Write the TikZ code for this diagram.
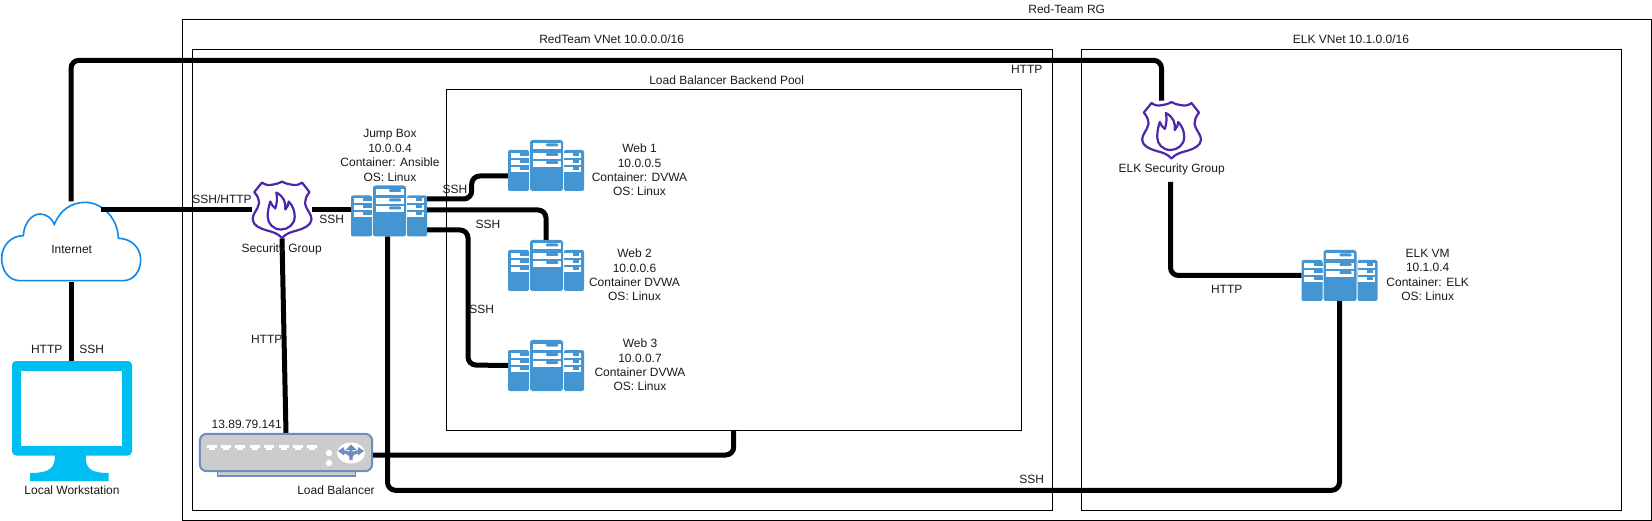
\documentclass[tikz,border=0pt]{standalone}
\usepackage{fontspec}
\setmainfont{Liberation Sans}
\usetikzlibrary{calc}
\definecolor{srvblue}{HTML}{4495D1}
\definecolor{fwpurple}{HTML}{4D27AA}
\definecolor{cloudblue}{HTML}{0F87E8}
\definecolor{moncyan}{HTML}{00BEF2}
\definecolor{lbblue}{HTML}{6C8EBF}
\definecolor{lbgrey}{HTML}{CCCCCC}
\definecolor{txt}{HTML}{1A1A1A}
\tikzset{
  region/.style={draw=black,line width=1pt,fill=none,inner sep=0pt,outer sep=0pt,anchor=north west},
  link/.style={draw=black,line width=5pt,rounded corners=8pt},
  lbl/.style={font=\fontsize{12}{14.4}\selectfont,text=txt,align=center,inner sep=0pt},
  servernode/.style={inner sep=0pt,outer sep=0pt,minimum width=76pt,minimum height=51pt},
  shieldnode/.style={inner sep=0pt,outer sep=0pt,minimum width=60pt,minimum height=57pt},
  pics/server/.style={code={
    \fill[srvblue,rounded corners=2pt] (-38,-15.5) rectangle (-17,25.5);
    \fill[srvblue,rounded corners=2pt] (18,-15.5) rectangle (38,25.5);
    \fill[srvblue,rounded corners=2.5pt] (-16,-25.5) rectangle (17,25.5);
    \foreach \y in {-12.5,-5.5,1.5}{
      \fill[white] (-35.3,\y) rectangle (-17,\y+5);
      \fill[white] (18,\y) rectangle (35,\y+5);
      \fill[srvblue] (-26,\y) rectangle (-17,\y+2.6);
      \fill[srvblue] (27,\y) rectangle (33,\y+2.6);
    }
    \foreach \y in {-22,-12.5,-4.5}{
      \fill[white] (-13.5,\y) rectangle (14.5,\y+6);
      \fill[srvblue,rounded corners=1pt] (0,\y) rectangle (12,\y+3);
    }
  }},
  pics/shield/.style={code={
    \begin{scope}[shift={(-30,-28.5)}]
    \draw[fwpurple,line width=2.2pt,line join=round]
      (10,1) .. controls (13,3.5) and (17,4) .. (20,3.2)
      .. controls (23,2.8) and (27,2) .. (30,0)
      .. controls (33,2) and (37,2.8) .. (40,3.2)
      .. controls (43,4) and (47,3.5) .. (50,1)
      -- (57.5,10.6)
      .. controls (54,15) and (53,18) .. (53,22)
      .. controls (54,28) and (60,33) .. (59.5,38)
      .. controls (59,44) and (52,47) .. (45,49)
      .. controls (39,50.5) and (34,52) .. (30,56.5)
      .. controls (26,52) and (21,50.5) .. (15,49)
      .. controls (8,47) and (1,44) .. (0.7,38)
      .. controls (0,33) and (6,28) .. (7,22)
      .. controls (7,18) and (6,15) .. (2.3,10.6)
      -- cycle;
    \draw[fwpurple,line width=2.2pt,line join=round]
      (24.3,11) .. controls (32,15) and (34,21) .. (33.3,28)
      .. controls (35.5,26) and (36.5,23) .. (36.7,20)
      .. controls (40.5,24) and (42.7,29) .. (42.7,35)
      .. controls (42.7,43) and (36,48) .. (29,48)
      .. controls (21,48) and (15.7,42) .. (15.7,35)
      .. controls (15.7,29) and (17,24) .. (18.3,20)
      .. controls (19.5,23) and (21,25.5) .. (23.3,27)
      .. controls (25,22) and (25.5,16) .. (24.3,11) -- cycle;
    \end{scope}
  }},
}
\begin{document}
\begin{tikzpicture}[x=1pt,y=-1pt]
\useasboundingbox (0,0) rectangle (1652,521);
% regions
\node[region,minimum width=1469.5pt,minimum height=500.3pt] (rg) at (182,20) {};
\node[region,minimum width=860pt,minimum height=460.3pt] (rvnet) at (192,50) {};
\node[region,minimum width=540pt,minimum height=460.3pt] (evnet) at (1081.7,50) {};
\node[region,minimum width=575.7pt,minimum height=340.3pt] (pool) at (446,90) {};
% icon nodes
\node[servernode] (jump) at (389,211) {};
\node[servernode] (web1) at (546,165.5) {};
\node[servernode] (web2) at (546,265.5) {};
\node[servernode] (web3) at (546,365.5) {};
\node[servernode] (elk) at (1339.5,275.5) {};
\node[shieldnode] (sg) at (282,210) {};
\node[shieldnode] (esg) at (1171.5,130.5) {};
\node[inner sep=0pt,minimum width=140pt,minimum height=80pt] (internet) at (71,241.5) {};
\node[inner sep=0pt,minimum width=120pt,minimum height=120pt] (workstation) at (72,421) {};
\node[inner sep=0pt,minimum width=172pt,minimum height=37pt] (lb) at (286,452.5) {};
\coordinate (cloudport) at (101,210);
% connectors
\draw[link] (internet.north) -- (71,60.3) -- (1161.5,60.3) -- ([xshift=-10pt,yshift=1.3pt]esg.north);
\draw[link,rounded corners=0pt] (internet.south) -- (internet.south |- workstation.north);
\draw[link,rounded corners=0pt] (sg.east) -- (jump.west |- sg.east);
\draw[link,rounded corners=0pt] (sg.south) -- (lb.north);
\draw[link] ([yshift=-2.5pt]lb.east) -- (733.7,455) -- (733.7,430.5);
\draw[link] ([xshift=-1.5pt]jump.south) -- (387.5,490.3) -- (1339.5,490.3) -- (elk.south);
\draw[link] ([yshift=12pt]jump.east) -- (471.7,199) -- (471.7,176) -- ([yshift=-10.5pt]web1.west);
\draw[link] ([yshift=1pt]jump.east) -- (546,210) -- (web2.north);
\draw[link] ([yshift=-19pt]jump.east) -- (468,230) -- (468,365) -- (web3.west);
\draw[link] (1170.5,182) -- (1170.5,275.5) -- (elk.west);
% icons
\pic at (jump) {server};
\pic at (web1) {server};
\pic at (web2) {server};
\pic at (web3) {server};
\pic at (elk) {server};
\pic at (sg) {shield};
\pic at (esg) {shield};
% cloud
\begin{scope}[shift={(0,170)},x=0.33333pt,y=-0.33333pt]
\filldraw[fill=white,draw=cloudblue,line width=1.6pt]
  (60,332) .. controls (25,332) and (5,300) .. (5,265)
  .. controls (5,225) and (35,197) .. (70,197)
  .. controls (72,160) and (95,132) .. (120,132)
  .. controls (140,132) and (155,145) .. (163,163)
  .. controls (180,120) and (215,97) .. (255,97)
  .. controls (310,97) and (355,150) .. (355,205)
  .. controls (395,205) and (422,235) .. (422,268)
  .. controls (422,305) and (400,332) .. (370,332) -- cycle;
\end{scope}
\draw[link,rounded corners=0pt] (cloudport) -- (sg.west);
% monitor
\fill[moncyan,rounded corners=4pt] (12,361) rectangle (132,455.5);
\fill[white] (21,371) rectangle (122,446);
\fill[moncyan] (55,455) .. controls (55,468) and (50,473) .. (30,473) -- (30,481) -- (108.5,481) -- (108.5,473) .. controls (90,473) and (85,468) .. (86,455) -- cycle;
% load balancer
\filldraw[fill=lbgrey,draw=lbblue,line width=1.5pt] (217.5,470) rectangle (355.5,476);
\filldraw[fill=lbgrey,draw=lbblue,line width=2pt,rounded corners=7pt] (lb.north west) rectangle (lb.south east);
\foreach \i in {0,...,7}{
  \fill[white] (206.5+\i*14.4,445) rectangle ++(10,3);
  \fill[white] (208.5+\i*14.4,447) rectangle ++(6,3);
}
\fill[white] (329,453) circle (3.2);
\fill[white] (329,463) circle (3.2);
\fill[white] (351,453) ellipse (14 and 10.5);
\draw[lbblue,line width=3.2pt] (351,449) -- (351,460) (343,451.5) .. controls (346,452) and (350,453) .. (351,457) (359,451.5) .. controls (356,452) and (352,453) .. (351,457);
\fill[lbblue] (345.5,450) -- (351,444.5) -- (356.5,450) -- cycle;
\fill[lbblue] (344,447) -- (338,451) -- (344,455.5) -- cycle;
\fill[lbblue] (358,447) -- (364,451) -- (358,455.5) -- cycle;
% labels
\node[lbl] (t1) at (1066.7,9.3) {Red-Team RG};
\node[lbl] (t2) at (611.7,39.7) {RedTeam VNet 10.0.0.0/16};
\node[lbl] (t3) at (1351,39.7) {ELK VNet 10.1.0.0/16};
\node[lbl] (t4) at (726.7,80) {Load Balancer Backend Pool};
\node[lbl] (t5) at (1026.7,69.7) {HTTP};
\node[lbl] (t6) at (222,199) {SSH/HTTP};
\node[lbl] (t7) at (71.7,249) {Internet};
\node[lbl] (t8) at (46.7,349) {HTTP};
\node[lbl] (t9) at (91.7,349) {SSH};
\node[lbl] (t10) at (72,490) {Local Workstation};
\node[lbl] (t11) at (281.7,249.5) {Security Group};
\node[lbl] (t12) at (331.7,219) {SSH};
\node[lbl] (t13) at (266.7,339) {HTTP};
\node[lbl] (t14) at (246.7,424) {13.89.79.141};
\node[lbl] (t15) at (336,490) {Load Balancer};
\node[lbl] (t16) at (390,155.5) {Jump Box\\10.0.0.4\\Container: Ansible\\OS: Linux};
\node[lbl] (t17) at (455,189) {SSH};
\node[lbl] (t18) at (488,224) {SSH};
\node[lbl] (t19) at (481.7,309) {SSH};
\node[lbl] (t20) at (639.5,170) {Web 1\\10.0.0.5\\Container: DVWA\\OS: Linux};
\node[lbl] (t21) at (634.5,275) {Web 2\\10.0.0.6\\Container DVWA\\OS: Linux};
\node[lbl] (t22) at (640,365) {Web 3\\10.0.0.7\\Container DVWA\\OS: Linux};
\node[lbl] (t23) at (1427.7,275) {ELK VM\\10.1.0.4\\Container: ELK\\OS: Linux};
\node[lbl] (t24) at (1171.7,169) {ELK Security Group};
\node[lbl] (t25) at (1226.7,289) {HTTP};
\node[lbl] (t26) at (1031.7,479.3) {SSH};
\end{tikzpicture}
\end{document}
